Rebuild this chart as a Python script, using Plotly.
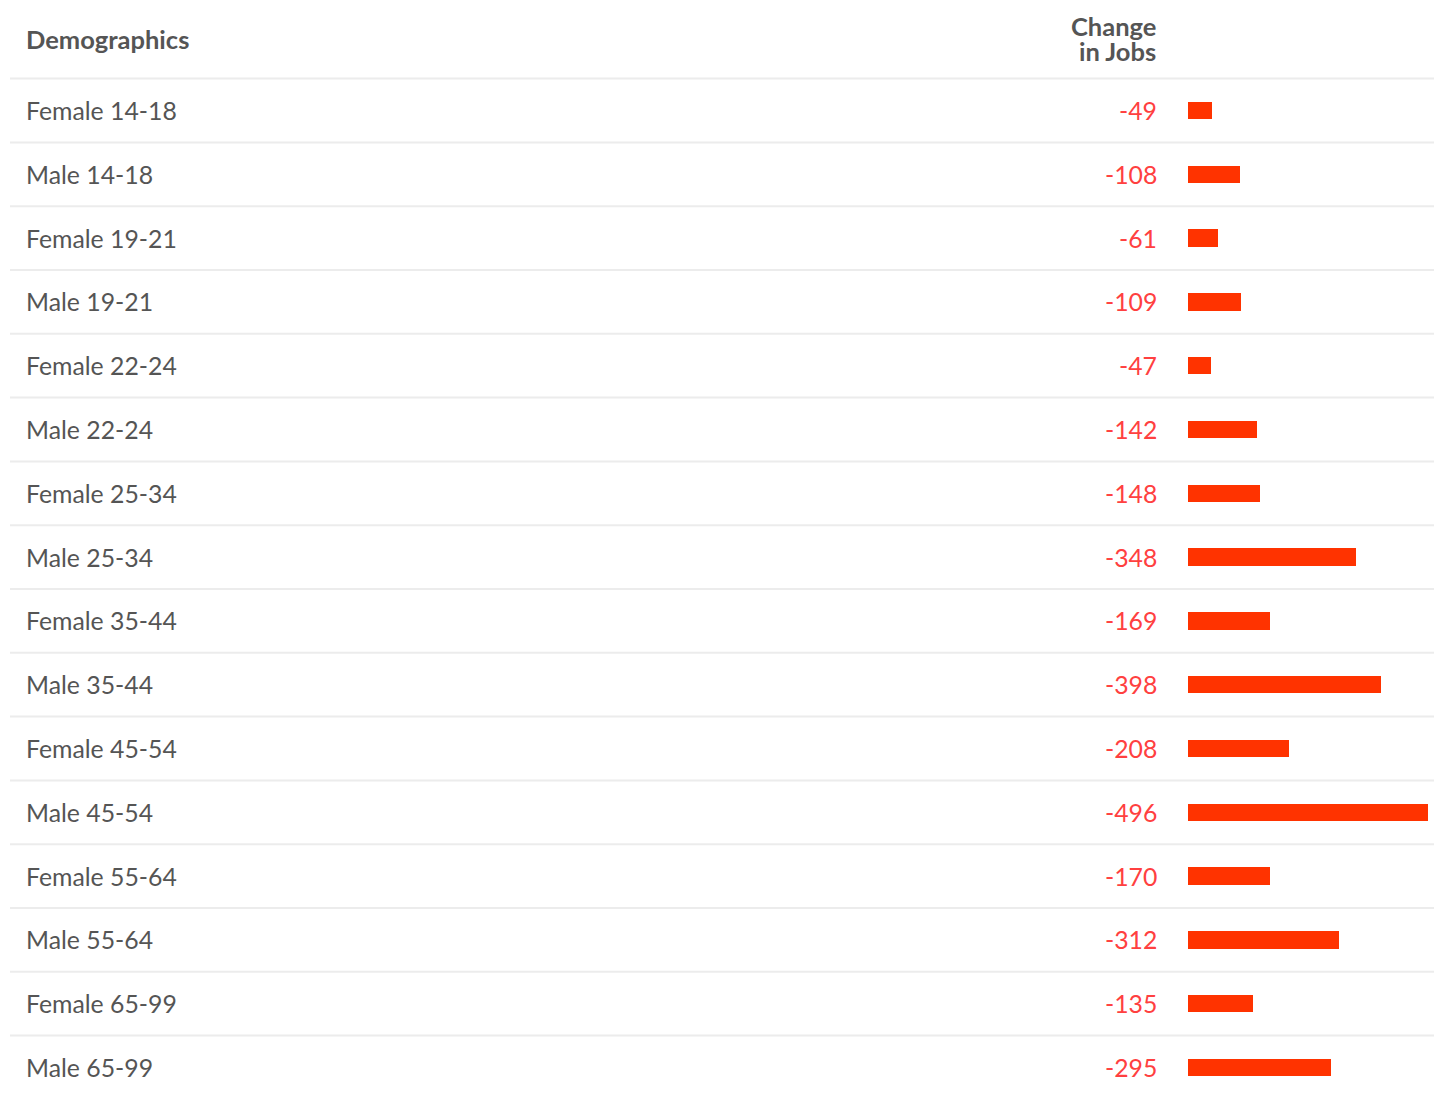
import plotly.graph_objects as go

# ---------- data ----------
groups = [
    "Female 14-18", "Male 14-18", "Female 19-21", "Male 19-21",
    "Female 22-24", "Male 22-24", "Female 25-34", "Male 25-34",
    "Female 35-44", "Male 35-44", "Female 45-54", "Male 45-54",
    "Female 55-64", "Male 55-64", "Female 65-99", "Male 65-99",
]
change_in_jobs = [-49, -108, -61, -109, -47, -142, -148, -348,
                  -169, -398, -208, -496, -170, -312, -135, -295]

# ---------- layout constants (pixels) ----------
W, H = 1434, 1093
ROW_H = 63.8
ROW0_Y = 110.5          # centre of first row
GREY = "#555555"
RED_TXT = "#ff4040"
RED_BAR = "#ff3300"
LINE = "#ececec"
FONT = "Lato"


def px_x(x):
    return x / W


def px_y(y):
    return 1 - y / H


n = len(groups)
y_top = -ROW0_Y / ROW_H
y_bot = (H - ROW0_Y) / ROW_H

fig = go.Figure()

fig.add_trace(go.Bar(
    x=change_in_jobs,
    y=list(range(n)),
    orientation="h",
    width=0.27,
    marker=dict(color=RED_BAR, line=dict(width=0)),
    hovertext=groups,
    hoverinfo="text+x",
    showlegend=False,
))

annotations = []
shapes = []

# header
annotations.append(dict(
    text="Demographics", xref="paper", yref="paper",
    x=px_x(24), y=px_y(39), xanchor="left", yanchor="middle",
    showarrow=False, font=dict(family=FONT, size=25.5, color=GREY, weight="bold"),
))
for txt, ypx in (("Change", 26), ("in Jobs", 51)):
    annotations.append(dict(
        text=txt, xref="paper", yref="paper",
        x=px_x(1158), y=px_y(ypx), xanchor="right", yanchor="middle",
        showarrow=False, font=dict(family=FONT, size=25.5, color=GREY, weight="bold"),
    ))

# rows
for i, (g, v) in enumerate(zip(groups, change_in_jobs)):
    annotations.append(dict(
        text=g, xref="paper", yref="y", x=px_x(24), y=i,
        xanchor="left", yanchor="middle", showarrow=False,
        font=dict(family=FONT, size=24.8, color=GREY),
    ))
    annotations.append(dict(
        text=str(v), xref="paper", yref="y", x=px_x(1159), y=i,
        xanchor="right", yanchor="middle", showarrow=False,
        font=dict(family=FONT, size=24.8, color=RED_TXT),
    ))

# separators (header line + between rows)
for i in range(-1, n - 1):
    shapes.append(dict(
        type="line", xref="paper", yref="y",
        x0=px_x(10), x1=1, y0=i + 0.5, y1=i + 0.5,
        line=dict(color=LINE, width=2), layer="below",
    ))

fig.update_layout(
    width=W, height=H,
    margin=dict(l=0, r=0, t=0, b=0),
    paper_bgcolor="white", plot_bgcolor="white",
    xaxis=dict(range=[0, -496], domain=[px_x(1188), px_x(1428)],
               visible=False, fixedrange=True),
    yaxis=dict(range=[y_bot, y_top], domain=[0, 1],
               visible=False, fixedrange=True),
    annotations=annotations,
    shapes=shapes,
    bargap=0,
)

# page body margin would push the figure 8px in; remove it
post = ("document.body.style.margin='0';"
        "document.body.style.overflow='hidden';")

fig.write_html("out.html", post_script=post,
               config={"displayModeBar": False})
